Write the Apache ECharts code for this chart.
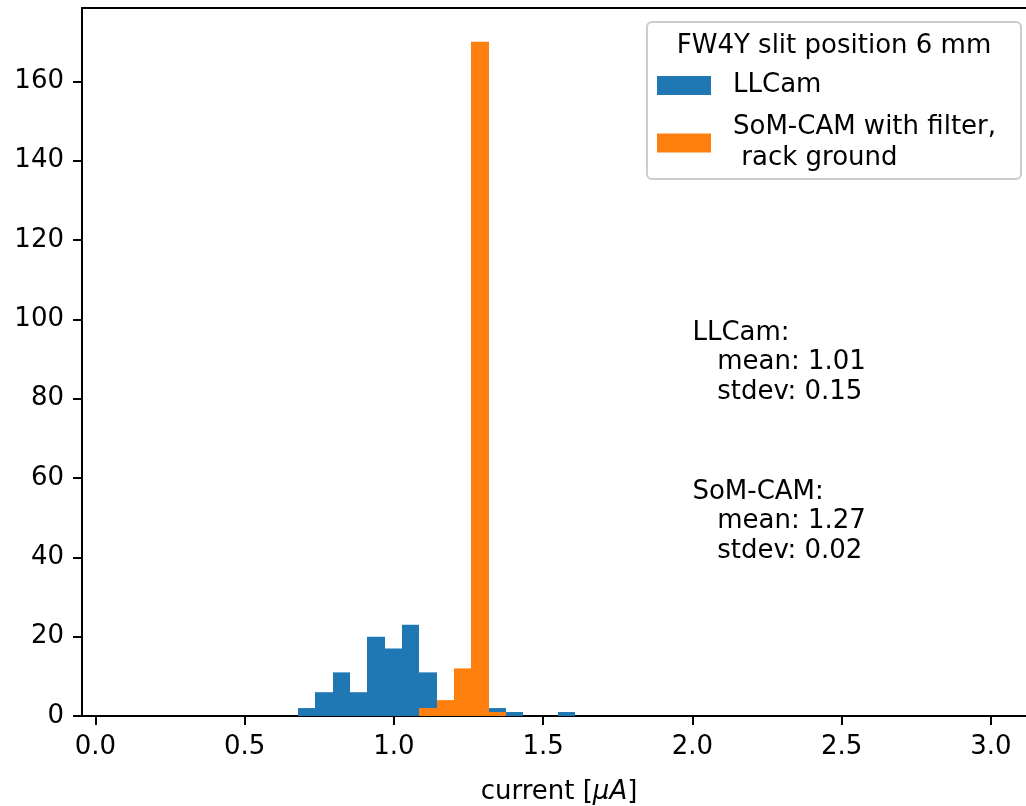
<!DOCTYPE html>
<html>
<head>
<meta charset="utf-8">
<script src="https://cdn.jsdelivr.net/npm/echarts@6/dist/echarts.min.js"></script>
<style>
  html, body { margin: 0; padding: 0; background: #fff; }
  #chart { width: 1026px; height: 806px; }
</style>
</head>
<body>
<div id="chart"></div>
<script>
// ---- data ----
const binEdges = [0.679, 0.737, 0.795, 0.853, 0.911, 0.969, 1.027, 1.085, 1.143,
                  1.201, 1.259, 1.317, 1.375, 1.433, 1.491, 1.549, 1.607];
const llcamCounts = [2, 6, 11, 6, 20, 17, 23, 11, 3, 6, 3, 2, 1, 0, 0, 1];
const somCounts   = [0, 0, 0, 0, 0, 0, 0, 2, 4, 12, 170, 1, 0, 0, 0, 0];
const seriesNames = ['LLCam', 'SoM-CAM with filter,\n rack ground'];
const legendTitle = 'FW4Y slit position 6 mm';
const xTicks = [0, 0.5, 1.0, 1.5, 2.0, 2.5, 3.0];
const yTicks = [0, 20, 40, 60, 80, 100, 120, 140, 160];
const xLimits = [-0.045, 3.151];
const yLimits = [0, 178.5];
const statsLLCam = 'LLCam:\n   mean: 1.01\n   stdev: 0.15';
const statsSoM = 'SoM-CAM:\n   mean: 1.27\n   stdev: 0.02';
const statsAnchors = [[2.0, 100], [2.0, 60]];

const FONT = '"DejaVu Sans", "Liberation Sans", sans-serif';
const FS = 26;

function toBins(counts) {
  const out = [];
  counts.forEach((c, i) => { if (c > 0) out.push([binEdges[i], binEdges[i + 1], c]); });
  return out;
}

function renderBar(params, api) {
  const p0 = api.coord([api.value(0), 0]);
  const p1 = api.coord([api.value(1), api.value(2)]);
  const x0 = Math.round(p0[0]), x1 = Math.round(p1[0]);
  return {
    type: 'rect',
    shape: { x: x0, y: p1[1], width: x1 - x0, height: p0[1] - p1[1] },
    style: { fill: api.visual('color') }
  };
}

const chart = echarts.init(document.getElementById('chart'), null, { renderer: 'canvas' });

const option = {
  animation: false,
  backgroundColor: '#fff',
  grid: { left: 82, top: 8, right: -10, bottom: 90, containLabel: false, outerBoundsMode: 'none',
          show: true, borderColor: '#000', borderWidth: 2, backgroundColor: 'transparent' },
  xAxis: {
    type: 'value', min: xLimits[0], max: xLimits[1],
    axisLine: { show: true, onZero: false, lineStyle: { color: '#000', width: 2 } },
    axisTick: { show: true, inside: false, length: 9, lineStyle: { color: '#000', width: 2 }, customValues: xTicks },
    axisLabel: { show: true, margin: 18, color: '#000', fontSize: FS, fontFamily: FONT,
                 customValues: xTicks, formatter: v => Number(v).toFixed(1) },
    splitLine: { show: false },
    name: 'current [{it|μA}]',
    nameLocation: 'middle', nameGap: 63,
    nameTextStyle: { color: '#000', fontSize: FS, fontFamily: FONT,
                     rich: { it: { fontStyle: 'italic', fontSize: FS, fontFamily: FONT, color: '#000' } } }
  },
  yAxis: {
    type: 'value', min: yLimits[0], max: yLimits[1],
    axisLine: { show: true, onZero: false, lineStyle: { color: '#000', width: 2 } },
    axisTick: { show: true, inside: false, length: 9, lineStyle: { color: '#000', width: 2 }, customValues: yTicks },
    axisLabel: { show: true, margin: 18, color: '#000', fontSize: FS, fontFamily: FONT, padding: [4, 0, 0, 0],
                 customValues: yTicks, formatter: v => String(Math.round(v)) },
    splitLine: { show: false }
  },
  legend: {
    orient: 'vertical', left: 657, top: 70, padding: 0,
    itemWidth: 54, itemHeight: 19, itemGap: 11, icon: 'rect',
    selectedMode: false,
    data: seriesNames,
    textStyle: { color: '#000', fontSize: FS, fontFamily: FONT, lineHeight: 31, padding: [0, 0, 0, 17] }
  },
  series: [
    { name: seriesNames[0], type: 'custom', renderItem: renderBar, data: toBins(llcamCounts),
      encode: { x: [0, 1], y: 2 }, itemStyle: { color: '#1f77b4' }, z: 2 },
    { name: seriesNames[1], type: 'custom', renderItem: renderBar, data: toBins(somCounts),
      encode: { x: [0, 1], y: 2 }, itemStyle: { color: '#ff7f0e' }, z: 3 }
  ]
};
chart.setOption(option);

const a1 = chart.convertToPixel({ gridIndex: 0 }, statsAnchors[0]);
const a2 = chart.convertToPixel({ gridIndex: 0 }, statsAnchors[1]);
chart.setOption({
  graphic: [
    { type: 'rect', z: 0, zlevel: 0,
      shape: { x: 647, y: 22, width: 374, height: 157, r: 5 },
      style: { fill: 'rgba(255,255,255,0.8)', stroke: '#cccccc', lineWidth: 2 } },
    { type: 'text', x: 834, y: 46, z: 10,
      style: { text: legendTitle, fill: '#000', fontSize: FS, fontFamily: FONT, align: 'center', verticalAlign: 'middle' } },
    { type: 'text', x: a1[0], y: a1[1] - 1, z: 10,
      style: { text: statsLLCam, fill: '#000', fontSize: FS, fontFamily: FONT, lineHeight: 29.5, align: 'left', verticalAlign: 'top' } },
    { type: 'text', x: a2[0], y: a2[1] - 1, z: 10,
      style: { text: statsSoM, fill: '#000', fontSize: FS, fontFamily: FONT, lineHeight: 29.5, align: 'left', verticalAlign: 'top' } }
  ]
});
</script>
</body>
</html>
